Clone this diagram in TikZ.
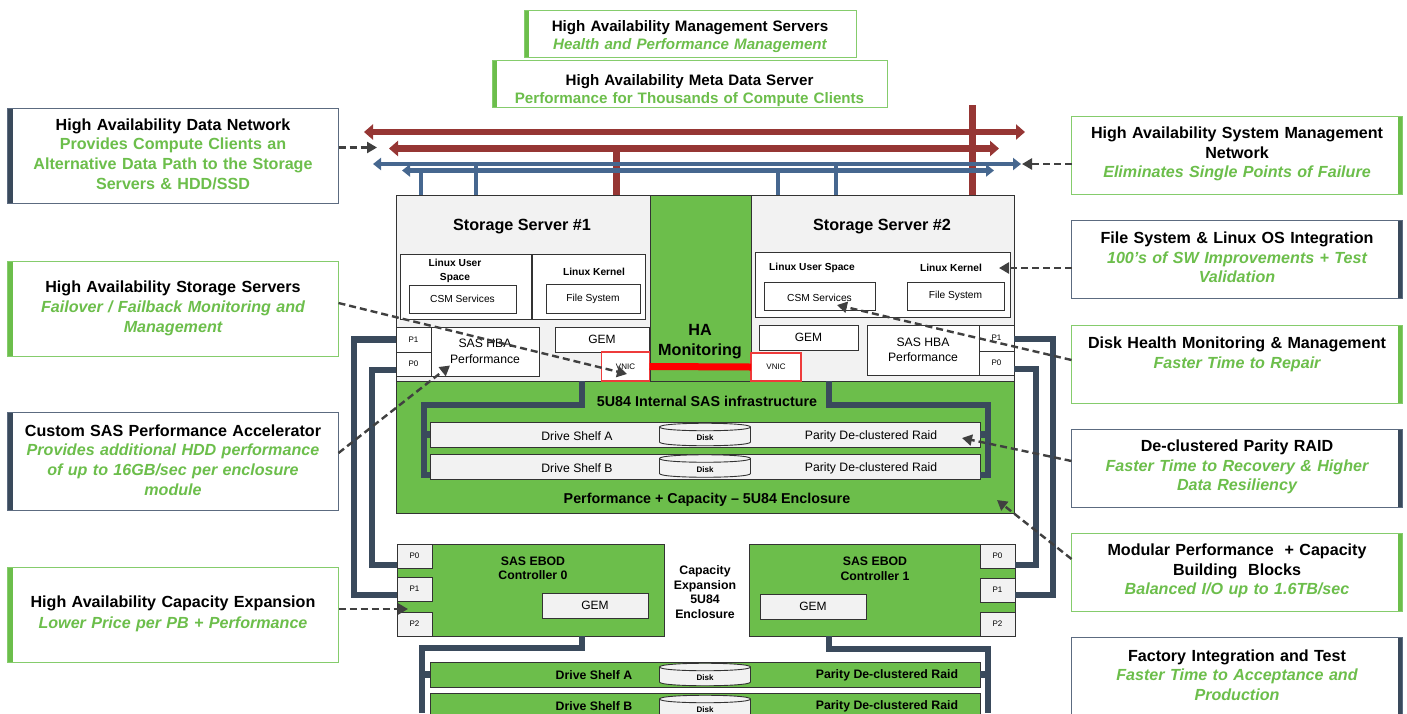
\documentclass[tikz,border=0pt]{standalone}
\usepackage{fontspec}
\setmainfont{Liberation Sans}
\usetikzlibrary{arrows.meta}
\definecolor{seagreen}{HTML}{6CBE4B}
\definecolor{edgegreen}{HTML}{85CC6C}
\definecolor{slate}{HTML}{3A4A5C}
\definecolor{edgeslate}{HTML}{5C6B80}
\definecolor{netred}{HTML}{963634}
\definecolor{netblue}{HTML}{46678F}
\definecolor{lightgrey}{HTML}{F2F2F2}
\definecolor{vnicred}{HTML}{EE3B3B}
\definecolor{dashgrey}{HTML}{404040}
\newcommand{\subtxt}[1]{{\color{seagreen}#1}}
\tikzset{
  wh/.style 2 args={minimum width=#1pt, minimum height=#2pt, inner sep=0pt, outer sep=0pt, anchor=north west},
  raisetxt/.style={execute at end node={\par\vspace{#1}}},
  droptxt/.style={execute at begin node={\rule{0pt}{#1}}},
  leftbar/.style 2 args={draw=#2, line width=1pt, fill=white, align=center, anchor=center, inner sep=0pt, outer sep=0pt,
    font=\fontsize{16.1}{19.7}\selectfont\bfseries, minimum width=331pt, text width=326pt,
    path picture={\fill[#1] (path picture bounding box.north west) rectangle ([xshift=5pt]path picture bounding box.south west);}},
  rightbar/.style 2 args={leftbar={white}{#2},
    path picture={\fill[#1] (path picture bounding box.north east) rectangle ([xshift=-5pt]path picture bounding box.south east);}},
  topbox/.style={font=\fontsize{15.15}{18}\selectfont\bfseries},
  box/.style={draw=black!80, line width=1pt, fill=white, font=\fontsize{10.2}{12}\selectfont, align=center},
  greybox/.style={box, fill=lightgrey},
  greenbox/.style={box, fill=seagreen},
  portbox/.style={font=\fontsize{8}{10}\selectfont},
  vnic/.style={draw=vnicred, line width=1.1pt, fill=white, font=\fontsize{8}{10}\selectfont},
  lbl/.style={font=\fontsize{10.2}{13.5}\selectfont\bfseries, align=center},
  midlbl/.style={font=\fontsize{12.3}{14.5}\selectfont\bfseries, align=center},
  enclbl/.style={font=\fontsize{14.3}{16}\selectfont\bfseries, align=center},
  biglbl/.style={font=\fontsize{16.2}{20}\selectfont\bfseries, align=center},
  shelflbl/.style={font=\fontsize{12.2}{14}\selectfont},
  cable/.style={draw=slate, line width=6.5pt},
  netarrow/.style={line width=6.5pt, netred, {Triangle[length=9pt,width=15pt]}-{Triangle[length=9pt,width=15pt]}},
  mgmtarrow/.style={line width=4.5pt, netblue, {Triangle[length=8pt,width=12pt]}-{Triangle[length=8pt,width=12pt]}},
  callarrow/.style={draw=dashgrey, line width=2.4pt, dash pattern=on 7pt off 4pt, -{Triangle[length=10pt,width=11pt]}},
  disk/.pic={
    \draw[black!80, line width=.9pt, fill=lightgrey] (-45.5,-8) .. controls (-45.5,-13) and (45.5,-13) .. (45.5,-8) -- (45.5,7) .. controls (45.5,12) and (-45.5,12) .. (-45.5,7) -- cycle;
    \draw[black!80, line width=.9pt] (-45.5,-8) .. controls (-45.5,-3) and (45.5,-3) .. (45.5,-8);
    \node[font=\fontsize{8}{10}\selectfont\bfseries] (-lbl) at (0,3) {Disk};
  }
}
\begin{document}
\begin{tikzpicture}[x=1pt,y=-1pt]
\clip (0,0) rectangle (1407,713);
\useasboundingbox (0,0) rectangle (1407,713);

\node[leftbar={seagreen}{edgegreen}, topbox, minimum width=332pt, text width=328pt, minimum height=47pt, droptxt=18pt] (mgmtsrv) at (690,33.5) {High Availability Management Servers\\\subtxt{\itshape Health and Performance Management}};
\node[leftbar={seagreen}{edgegreen}, topbox, minimum width=395pt, text width=390pt, minimum height=46pt, droptxt=25pt] (metasrv) at (689.5,84) {High Availability Meta Data Server\\\subtxt{Performance for Thousands of Compute Clients}};

\node[leftbar={slate}{edgeslate}, minimum height=95pt, raisetxt=3pt] (datanet) at (173,155.5) {High Availability Data Network\\\subtxt{Provides Compute Clients an}\\\subtxt{Alternative Data Path to the Storage}\\\subtxt{Servers \& HDD/SSD}};
\node[leftbar={seagreen}{edgegreen}, minimum height=95pt] (storsrv) at (173,308.5) {High Availability Storage Servers\\\subtxt{\itshape Failover / Failback Monitoring and}\\\subtxt{\itshape Management}};
\node[leftbar={slate}{edgeslate}, minimum height=98pt, raisetxt=2pt] (customsas) at (173,461) {Custom SAS Performance Accelerator\\\subtxt{\itshape Provides additional HDD performance}\\\subtxt{\itshape of up to 16GB/sec per enclosure}\\\subtxt{\itshape module}};
\node[leftbar={seagreen}{edgegreen}, minimum height=95pt, raisetxt=2pt] (capexp) at (173,614.5) {High Availability Capacity Expansion\\[1pt]\subtxt{\itshape Lower Price per PB + Performance}};

\node[rightbar={seagreen}{edgegreen}, minimum height=78pt, raisetxt=2pt] (sysmgmt) at (1237,155) {High Availability System Management\\Network\\\subtxt{\itshape Eliminates Single Points of Failure}};
\node[rightbar={slate}{edgeslate}, minimum height=78pt, raisetxt=3pt] (fsint) at (1237,259) {File System \& Linux OS Integration\\\subtxt{\itshape 100’s of SW Improvements + Test}\\\subtxt{\itshape Validation}};
\node[rightbar={seagreen}{edgegreen}, minimum height=78pt, raisetxt=3pt] (diskhealth) at (1237,364) {Disk Health Monitoring \& Management\\\subtxt{\itshape Faster Time to Repair}\\~};
\node[rightbar={slate}{edgeslate}, minimum height=78pt, raisetxt=2pt] (declust) at (1237,468) {De-clustered Parity RAID\\\subtxt{\itshape Faster Time to Recovery \& Higher}\\\subtxt{\itshape Data Resiliency}};
\node[rightbar={seagreen}{edgegreen}, minimum height=78pt, raisetxt=2pt] (modular) at (1237,572) {Modular Performance\ \ + Capacity\\Building\ \ Blocks\\\subtxt{\itshape Balanced I/O up to 1.6TB/sec}};
\node[rightbar={slate}{edgeslate}, minimum height=78pt, raisetxt=2pt] (factory) at (1237,676) {Factory Integration and Test\\\subtxt{\itshape Faster Time to Acceptance and}\\\subtxt{\itshape Production}};

\coordinate (redAl) at (364,132);
\coordinate (redAr) at (1025,132);
\coordinate (redBl) at (389,148.5);
\coordinate (redBr) at (999,148.5);
\coordinate (bluAl) at (373,164);
\coordinate (bluAr) at (1021,164);
\coordinate (bluBl) at (402,170.5);
\coordinate (bluBr) at (994,170.5);

\node[greenbox, wh={618}{132}] (encl) at (396,381) {};
\node[greenbox, wh={101}{186}] (hablock) at (650,195) {};
\node[greybox, wh={254}{186}] (srvA) at (396,195) {};
\node[greybox, wh={263}{186}] (srvB) at (751,195) {};

\draw[netred, line width=7pt] (616,148.5) -- (616,0 |- srvA.north);
\draw[netred, line width=7pt] (972,105) -- (972,0 |- srvB.north);
\draw[netarrow] (redAl) -- (redAr);
\draw[netarrow] (redBl) -- (redBr);
\foreach \x/\y in {421/170,476/164,778/170,836/164}
  \draw[netblue, line width=3.5pt] (\x,\y) -- (\x,0 |- srvA.north);
\draw[mgmtarrow] (bluAl) -- (bluAr);
\draw[mgmtarrow] (bluBl) -- (bluBr);

\node[biglbl] (srvAttl) at (522,227) {Storage Server \#1};
\node[biglbl] (srvBttl) at (882,227) {Storage Server \#2};
\node[biglbl] (haname) at (700,342) {HA\\Monitoring};

\node[box, wh={131}{65}] (userA) at (400,254) {};
\node[box, wh={113}{65}] (kernA) at (532,254) {};
\node[lbl] (userAt) at (455,271) {Linux User\\Space};
\node[lbl] (kernAt) at (594,272) {Linux Kernel};
\node[box, wh={107}{28}] (csmA) at (409,285) {CSM Services};
\node[box, wh={94}{29}] (fileA) at (546,284) {File System};
\node[box, portbox, wh={35}{25}] (sp1) at (396,327) {P1};
\node[box, portbox, wh={35}{24}] (sp0) at (396,352) {P0};
\node[box, wh={108}{49}, font=\fontsize{12.2}{15.5}\selectfont] (hbaA) at (431,327) {SAS HBA\\Performance};
\node[box, wh={94}{25}, font=\fontsize{12}{15}\selectfont] (gemA) at (555,327) {GEM};
\node[vnic, wh={48}{29}] (vnicA) at (601.5,352) {VNIC};

\node[box, wh={255}{65}] (osB) at (755,252) {};
\node[lbl] (userBt) at (812,268) {Linux User Space};
\node[lbl] (kernBt) at (951,268) {Linux Kernel};
\node[box, wh={111}{28}, text height=12pt] (csmB) at (764,282) {CSM Services};
\node[box, wh={97}{28}] (fileB) at (907,282) {File System};
\node[box, wh={99}{25}, font=\fontsize{12}{15}\selectfont] (gemB) at (759,325) {GEM};
\node[box, wh={112}{50}, font=\fontsize{12.2}{15.5}\selectfont] (hbaB) at (867,325) {SAS HBA\\Performance};
\node[box, portbox, wh={35}{26}] (tp1) at (979,325) {P1};
\node[box, portbox, wh={35}{24}] (tp0) at (979,351) {P0};
\node[vnic, wh={50}{28}] (vnicB) at (751,353) {VNIC};
\draw[red, line width=7pt] (vnicA.east) -- (vnicB.west);

\coordinate (sasA) at (582,381);
\coordinate (sasB) at (829,381);
\node[enclbl] (sasttl) at (707,401) {5U84 Internal SAS infrastructure};
\node[greybox, wh={550}{25}] (shelfA) at (430,422) {};
\node[greybox, wh={550}{25}] (shelfB) at (430,454) {};
\draw[cable] (sasA) -- (582,405) -- (424,405) -- (424,475) -- (shelfB.west |- 0,475);
\draw[cable] (424,0 |- shelfA.west) -- (shelfA.west);
\draw[cable] (sasB) -- (829,405) -- (988,405) -- (988,475) -- (shelfB.east |- 0,475);
\draw[cable] (988,0 |- shelfA.east) -- (shelfA.east);
\node[shelflbl] (shAa) at (577,436) {Drive Shelf A};
\node[shelflbl] (shAb) at (871,436) {Parity De-clustered Raid};
\node[shelflbl] (shBa) at (577,468) {Drive Shelf B};
\node[shelflbl] (shBb) at (871,468) {Parity De-clustered Raid};
\pic (diskA) at (705,435) {disk};
\pic (diskB) at (705,466.5) {disk};
\node[enclbl] (enclttl) at (707,499.5) {Performance + Capacity – 5U84 Enclosure};

\node[greenbox, wh={267}{92}] (ctrlA) at (397,544) {};
\node[greenbox, wh={266}{92}] (ctrlB) at (749,544) {};
\node[midlbl] (ctrlAt) at (533,568.5) {SAS EBOD\\Controller 0};
\node[midlbl] (ctrlBt) at (875,569) {SAS EBOD\\Controller 1};
\node[midlbl] (capttl) at (705,592) {Capacity\\Expansion\\5U84\\Enclosure};
\node[greybox, portbox, wh={35}{24}] (ap0) at (397,544) {P0};
\node[greybox, portbox, wh={35}{24}] (ap1) at (397,577) {P1};
\node[greybox, portbox, wh={35}{24}] (ap2) at (397,612) {P2};
\node[greybox, portbox, wh={35}{24}] (bp0) at (980,544) {P0};
\node[greybox, portbox, wh={35}{24}] (bp1) at (980,578) {P1};
\node[greybox, portbox, wh={35}{24}] (bp2) at (980,612) {P2};
\node[greybox, wh={106}{25}, font=\fontsize{12}{15}\selectfont] (gemC) at (542,593) {GEM};
\node[greybox, wh={106}{25}, font=\fontsize{12}{15}\selectfont] (gemD) at (760,594) {GEM};

\draw[cable] (sp1.west) -- (354,0 |- sp1.west) -- (354,595) -- (ap1.west |- 0,595);
\draw[cable] (sp0.west |- 0,370) -- (372,370) -- (372,565) -- (ap0.west |- 0,565);
\draw[cable] (tp1.east |- 0,339) -- (1053,339) -- (1053,595) -- (bp1.east |- 0,595);
\draw[cable] (tp0.east |- 0,369) -- (1036,369) -- (1036,565) -- (bp0.east |- 0,565);

\node[greenbox, wh={550}{25}] (shelfC) at (430,662) {};
\node[greenbox, wh={550}{26}] (shelfD) at (430,693) {};
\draw[cable] (ctrlA.south -| 582,0) -- (582,648) -- (422,648) -- (422,713);
\draw[cable] (422,0 |- shelfC.west) -- (shelfC.west);
\draw[cable] (ctrlB.south -| 829,0) -- (829,649) -- (988,649) -- (988,713);
\draw[cable] (988,0 |- shelfC.east) -- (shelfC.east);
\node[shelflbl, font=\fontsize{12.3}{14}\selectfont\bfseries] (shCa) at (594,675) {Drive Shelf A};
\node[shelflbl, font=\fontsize{12.3}{14}\selectfont\bfseries] (shCb) at (887,675) {Parity De-clustered Raid};
\node[shelflbl, font=\fontsize{12.3}{14}\selectfont\bfseries] (shDa) at (594,706) {Drive Shelf B};
\node[shelflbl, font=\fontsize{12.3}{14}\selectfont\bfseries] (shDb) at (887,706) {Parity De-clustered Raid};
\pic (diskC) at (705,675) {disk};
\pic (diskD) at (705,707) {disk};

\coordinate (tipdata) at (377,147.5);
\coordinate (tipsys) at (1022,164);
\coordinate (tipfs) at (999,268);
\coordinate (tipstor) at (627,374);
\coordinate (tipsas) at (450,365.5);
\coordinate (tiphealth) at (837,305);
\coordinate (tipraid) at (962,438);
\coordinate (tipmod) at (997,500);
\coordinate (tipcap) at (408,609);
\draw[callarrow] (datanet.east |- tipdata) -- (tipdata);
\draw[callarrow] (sysmgmt.west |- tipsys) -- (tipsys);
\draw[callarrow] (fsint.west |- tipfs) -- (tipfs);
\draw[callarrow] (storsrv.east |- 0,303) -- (tipstor);
\draw[callarrow] (customsas.east |- 0,453) -- (tipsas);
\draw[callarrow] (diskhealth.west |- 0,360) -- (tiphealth);
\draw[callarrow] (declust.west |- 0,461) -- (tipraid);
\draw[callarrow] (modular.west |- 0,559) -- (tipmod);
\draw[callarrow] (capexp.east |- tipcap) -- (tipcap);
\end{tikzpicture}
\end{document}
